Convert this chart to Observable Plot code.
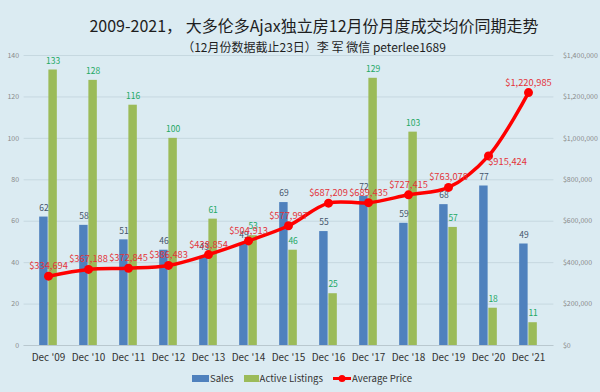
<!DOCTYPE html>
<html>
<head>
<meta charset="utf-8">
<script src="https://cdn.jsdelivr.net/npm/d3@7"></script>
<script src="https://cdn.jsdelivr.net/npm/@observablehq/plot@0.6"></script>
<style>
  html, body { margin: 0; padding: 0; }
  body { width: 600px; height: 392px; background: #dbebf2; position: relative; overflow: hidden;
         font-family: "Noto Sans CJK SC", "Noto Sans", sans-serif; }
  #title { position: absolute; left: 0; width: 600px; top: 13px; line-height: 24px; text-align: center;
           font-size: 16px; color: #1e1e1e; padding-left: 28px; box-sizing: border-box; }
  #subtitle { position: absolute; left: 0; width: 600px; top: 38px; line-height: 18px; text-align: center;
           font-size: 12px; color: #1e1e1e; padding-left: 28px; box-sizing: border-box; }
  #chart { position: absolute; left: 0; top: 50px; }
  #legend { position: absolute; left: 0; width: 600px; top: 370px; height: 16px; display: flex;
            justify-content: center; align-items: center; font-size: 9.6px; color: #333; padding-left: 4px; box-sizing: border-box; }
  .item { display: flex; align-items: center; margin: 0 5px; }
  .sw { display: inline-block; width: 17px; height: 7px; margin-right: 1px; }
</style>
</head>
<body>
<div id="title">2009-2021， 大多伦多Ajax独立房12月份月度成交均价同期走势</div>
<div id="subtitle">（12月份数据截止23日）李 军 微信 peterlee1689</div>
<div id="chart"></div>
<div id="legend"></div>
<script>
const categories = ["Dec '09","Dec '10","Dec '11","Dec '12","Dec '13","Dec '14","Dec '15","Dec '16","Dec '17","Dec '18","Dec '19","Dec '20","Dec '21"];
const sales = [62, 58, 51, 46, 43, 49, 69, 55, 72, 59, 68, 77, 49];
const activeListings = [133, 128, 116, 100, 61, 53, 46, 25, 129, 103, 57, 18, 11];
const averagePrice = [334694, 367188, 372845, 386483, 438854, 504913, 577997, 687209, 689435, 727415, 763078, 915424, 1220985];
const leftTicks = [0, 20, 40, 60, 80, 100, 120, 140];
const rightTicks = [0, 200000, 400000, 600000, 800000, 1000000, 1200000, 1400000];
const seriesNames = ["Sales", "Active Listings", "Average Price"];

const priceFactor = rightTicks[rightTicks.length - 1] / leftTicks[leftTicks.length - 1];
const rows = categories.map((c, i) => ({
  cat: c, sales: sales[i], listings: activeListings[i], price: averagePrice[i], py: averagePrice[i] / priceFactor, i
}));

const BLUE = "#4f81bd", GREEN = "#9bbb59", RED = "#ff0000";
const width = 600, mL = 23.6, mR = 46.6;
const bw = (width - mL - mR) / categories.length;
const half = bw / 2, barW = 9.2;
const money = d => "$" + d3.format(",")(d);

const chart = Plot.plot({
  width, height: 318,
  marginTop: 5, marginBottom: 23, marginLeft: mL, marginRight: mR,
  style: { background: "transparent", fontFamily: "'Noto Sans CJK SC', 'Noto Sans', sans-serif", overflow: "visible" },
  x: { type: "band", domain: categories, padding: 0, label: null },
  y: { domain: [leftTicks[0], leftTicks[leftTicks.length - 1]], label: null },
  marks: [
    Plot.gridY(leftTicks, { stroke: "#c6d8e0", strokeOpacity: 1 }),
    Plot.ruleY([0], { stroke: "#b9c8cf" }),
    Plot.axisY(leftTicks, { anchor: "left", tickSize: 0, tickPadding: 5, fontSize: 7, color: "#8a8a8a", label: null }),
    Plot.axisY(rightTicks.map(v => v / priceFactor), { anchor: "right", tickSize: 0, tickPadding: 9, fontSize: 7, color: "#8a8a8a", label: null,
      tickFormat: d => money(Math.round(d * priceFactor)) }),
    Plot.axisX({ tickSize: 0, tickPadding: 8, fontSize: 10, color: "#333", label: null }),
    Plot.barY(rows, { x: "cat", y: "sales", fill: BLUE, insetLeft: half - barW, insetRight: half }),
    Plot.barY(rows, { x: "cat", y: "listings", fill: GREEN, insetLeft: half, insetRight: half - barW }),
    Plot.text(rows, { x: "cat", y: "sales", text: d => String(d.sales), dx: -barW / 2, dy: -9, fill: "#44546a", fontSize: 8.5 }),
    Plot.text(rows, { x: "cat", y: "listings", text: d => String(d.listings), dx: barW / 2, dy: -9, fill: "#22a864", fontSize: 8.5 }),
    Plot.line(rows, { x: "cat", y: "py", stroke: RED, strokeWidth: 3.5, curve: "catmull-rom" }),
    Plot.dot(rows, { x: "cat", y: "py", r: 4.5, fill: RED, stroke: "none" }),
    Plot.text(rows.filter(d => d.i !== 11), { x: "cat", y: "py", text: d => money(d.price), dy: -10, fill: "#e3343a", fontSize: 9.3 }),
    Plot.text(rows.filter(d => d.i === 11), { x: "cat", y: "py", text: d => money(d.price), dx: 19, dy: 6, fill: "#e3343a", fontSize: 9.3 })
  ]
});
document.getElementById("chart").appendChild(chart);

const legend = document.getElementById("legend");
legend.innerHTML =
  `<span class="item"><span class="sw" style="background:${BLUE}"></span>${seriesNames[0]}</span>` +
  `<span class="item"><span class="sw" style="background:${GREEN};width:15px"></span>${seriesNames[1]}</span>` +
  `<span class="item"><svg width="18" height="9" style="margin-right:1px"><line x1="0" y1="4.5" x2="18" y2="4.5" stroke="${RED}" stroke-width="3"/><circle cx="9" cy="4.5" r="3.5" fill="${RED}"/></svg>${seriesNames[2]}</span>`;
</script>
</body>
</html>
